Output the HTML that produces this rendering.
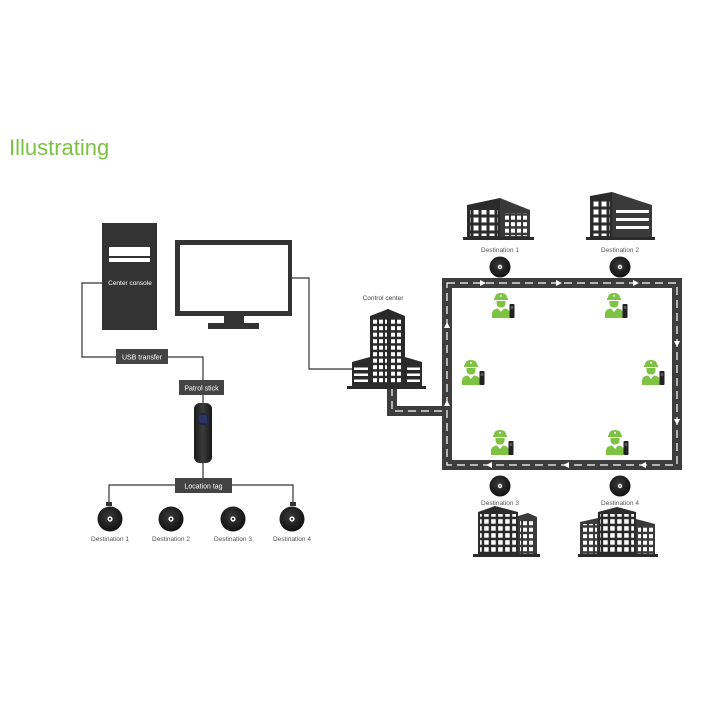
<!DOCTYPE html>
<html><head><meta charset="utf-8">
<style>html,body{margin:0;padding:0;background:#fff}svg{display:block}</style></head>
<body>
<svg width="701" height="701" viewBox="0 0 701 701" xmlns="http://www.w3.org/2000/svg" font-family="'Liberation Sans', sans-serif">
<defs>
<pattern id="wa" patternUnits="userSpaceOnUse" width="8" height="8"><rect x="1.5" y="1.5" width="5" height="5" fill="#fff"/></pattern>
<pattern id="wb" patternUnits="userSpaceOnUse" width="6" height="6.5"><rect x="1" y="1.2" width="4" height="4" fill="#fff"/></pattern>
<pattern id="wc" patternUnits="userSpaceOnUse" width="7" height="7"><rect x="1.2" y="1.2" width="4.5" height="4.5" fill="#fff"/></pattern>
<pattern id="st" patternUnits="userSpaceOnUse" width="6" height="6"><rect x="0" y="1.5" width="6" height="2.5" fill="#fff"/></pattern>
<radialGradient id="pk" cx="0.45" cy="0.4" r="0.6">
<stop offset="0" stop-color="#3a3a3a"/><stop offset="1" stop-color="#111"/></radialGradient>
<linearGradient id="sk" x1="0" x2="1"><stop offset="0" stop-color="#1a1a1a"/><stop offset="0.5" stop-color="#3c3c3c"/><stop offset="1" stop-color="#161616"/></linearGradient>
<g id="guard">
<path d="M3,5 Q3,0 9,0 Q15,0 15,5 Z" fill="#7dc242"/>
<rect x="2" y="5" width="14" height="2" fill="#7dc242"/>
<circle cx="9" cy="2.8" r="1" fill="#fff"/>
<path d="M4.5,8 L13.5,8 L13.5,10 Q13.5,14.5 9,14.5 Q4.5,14.5 4.5,10 Z" fill="#7dc242"/>
<path d="M0,25 L0,20 Q0.5,16 6,15.5 L9,19 L12,15.5 Q17.5,16 18,20 L18,25 Z" fill="#7dc242"/>
<rect x="17.5" y="11" width="5" height="14" rx="1" fill="#222"/>
<rect x="18.7" y="13" width="2.6" height="3" fill="#555"/>
</g>
</defs>

<!-- Title -->
<text x="9" y="155" font-size="22" fill="#7cc242">Illustrating</text>

<!-- Left diagram connectors -->
<g stroke="#333" stroke-width="1.2" fill="none">
<path d="M102,283 H82 V357 H116"/>
<path d="M168,357 H203 V380"/>
<path d="M203,395 V403"/>
<path d="M203,463 V478"/>
<path d="M175,485 H109 V503"/>
<path d="M232,485 H293 V503"/>
<path d="M292,278 H309 V369 H352"/>
</g>
<rect x="106" y="502" width="6" height="4" fill="#333"/>
<rect x="290" y="502" width="6" height="4" fill="#333"/>

<!-- Console -->
<rect x="102" y="223" width="55" height="107" fill="#333"/>
<rect x="109" y="247" width="41" height="9" fill="#fff"/>
<rect x="109" y="258" width="41" height="4" fill="#fff"/>
<text x="130" y="285" font-size="6.5" fill="#fff" text-anchor="middle">Center console</text>

<!-- Monitor -->
<rect x="175" y="240" width="117" height="76" fill="#333"/>
<rect x="180" y="245" width="108" height="66" fill="#fff"/>
<rect x="224" y="316" width="20" height="7" fill="#333"/>
<rect x="208" y="323" width="51" height="6" fill="#333"/>

<!-- Boxes -->
<rect x="116" y="349" width="52" height="15" fill="#444"/>
<text x="142" y="359.5" font-size="7" fill="#fff" text-anchor="middle">USB transfer</text>
<rect x="179" y="380" width="45" height="15" fill="#444"/>
<text x="201.5" y="390.5" font-size="7" fill="#fff" text-anchor="middle">Patrol stick</text>
<rect x="175" y="478" width="57" height="15" fill="#444"/>
<text x="203.5" y="488.5" font-size="7" fill="#fff" text-anchor="middle">Location tag</text>

<!-- Patrol stick -->
<rect x="194" y="403" width="18" height="60" rx="6" fill="url(#sk)"/>
<rect x="197" y="413" width="12" height="12" rx="2" fill="#232840"/>
<rect x="199" y="415" width="8" height="8" rx="1" fill="#2c3560"/>

<!-- Left pucks -->
<g>
<circle cx="110" cy="519" r="12.5" fill="url(#pk)"/><circle cx="110" cy="519" r="2.6" fill="#fff"/><circle cx="110" cy="519" r="1" fill="#111"/>
<circle cx="171" cy="519" r="12.5" fill="url(#pk)"/><circle cx="171" cy="519" r="2.6" fill="#fff"/><circle cx="171" cy="519" r="1" fill="#111"/>
<circle cx="233" cy="519" r="12.5" fill="url(#pk)"/><circle cx="233" cy="519" r="2.6" fill="#fff"/><circle cx="233" cy="519" r="1" fill="#111"/>
<circle cx="292" cy="519" r="12.5" fill="url(#pk)"/><circle cx="292" cy="519" r="2.6" fill="#fff"/><circle cx="292" cy="519" r="1" fill="#111"/>
</g>
<g font-size="6.5" fill="#555" text-anchor="middle">
<text x="110" y="541">Destination 1</text>
<text x="171" y="541">Destination 2</text>
<text x="233" y="541">Destination 3</text>
<text x="292" y="541">Destination 4</text>
</g>

<!-- Road -->
<g fill="none" stroke-linejoin="miter">
<path d="M447,283 H677 V465 H447 Z" stroke="#3d3d3d" stroke-width="10"/>
<path d="M392,386 V411 H447" stroke="#3d3d3d" stroke-width="10"/>
<path d="M447,283 H677 V465 H447 Z" stroke="#fff" stroke-width="1.2" stroke-dasharray="8 5"/>
<path d="M392,388 V411 H444" stroke="#fff" stroke-width="1.2" stroke-dasharray="8 5"/>
</g>
<g fill="#fff">
<polygon points="486,283 480,280 480,286"/>
<polygon points="562,283 556,280 556,286"/>
<polygon points="639,283 633,280 633,286"/>
<polygon points="677,347 674,341 680,341"/>
<polygon points="677,425 674,419 680,419"/>
<polygon points="486,465 492,462 492,468"/>
<polygon points="563,465 569,462 569,468"/>
<polygon points="640,465 646,462 646,468"/>
<polygon points="447,322 444,328 450,328"/>
<polygon points="447,400 444,406 450,406"/>
</g>

<!-- Control center -->
<text x="383" y="300" font-size="6.5" fill="#444" text-anchor="middle">Control center</text>
<polygon points="370,316 388,309 405,316 405,387 370,387" fill="#2a2a2a"/>
<rect x="372" y="318" width="31" height="66" fill="url(#wb)"/>
<line x1="388" y1="309" x2="388" y2="387" stroke="#2a2a2a" stroke-width="2"/>
<polygon points="352,362 370,357 370,387 352,387" fill="#2a2a2a"/>
<rect x="354" y="364" width="14" height="21" fill="url(#st)"/>
<polygon points="405,357 422,362 422,387 405,387" fill="#2a2a2a"/>
<rect x="407" y="364" width="13" height="21" fill="url(#st)"/>
<rect x="347" y="386" width="79" height="3" fill="#2a2a2a"/>

<!-- Dest 1 building -->
<polygon points="467,205 500,198 500,238 467,238" fill="#2b2b2b"/>
<polygon points="500,198 530,210 530,238 500,238" fill="#3a3a3a"/>
<rect x="470" y="210" width="28" height="26" fill="url(#wa)"/>
<rect x="503" y="213" width="25" height="23" fill="url(#wb)"/>
<rect x="463" y="237" width="71" height="3" fill="#2b2b2b"/>
<!-- Dest 2 building -->
<polygon points="590,196 612,192 612,238 590,238" fill="#2b2b2b"/>
<rect x="592" y="200" width="18" height="36" fill="url(#wa)"/>
<polygon points="612,192 652,205 652,238 612,238" fill="#3a3a3a"/>
<rect x="616" y="210" width="33" height="3" fill="#fff"/>
<rect x="616" y="218" width="33" height="3" fill="#fff"/>
<rect x="616" y="226" width="33" height="3" fill="#fff"/>
<rect x="586" y="237" width="69" height="3" fill="#2b2b2b"/>

<!-- Dest 3 building -->
<polygon points="478,512 495,506 518,512 518,555 478,555" fill="#2b2b2b"/>
<rect x="480" y="514" width="36" height="40" fill="url(#wc)"/>
<polygon points="518,516 528,513 537,517 537,555 518,555" fill="#3a3a3a"/>
<rect x="520" y="519" width="15" height="35" fill="url(#wb)"/>
<rect x="473" y="554" width="67" height="3" fill="#2b2b2b"/>
<!-- Dest 4 building -->
<polygon points="580,522 598,518 598,555 580,555" fill="#3a3a3a"/>
<rect x="582" y="524" width="15" height="30" fill="url(#wb)"/>
<polygon points="598,512 617,507 636,512 636,555 598,555" fill="#2b2b2b"/>
<rect x="600" y="514" width="34" height="40" fill="url(#wc)"/>
<polygon points="636,519 655,524 655,555 636,555" fill="#3a3a3a"/>
<rect x="638" y="526" width="15" height="28" fill="url(#wb)"/>
<rect x="578" y="554" width="80" height="3" fill="#2b2b2b"/>

<!-- Right pucks -->
<circle cx="500" cy="267" r="10.5" fill="url(#pk)"/><circle cx="500" cy="267" r="2.2" fill="#fff"/><circle cx="500" cy="267" r="0.8" fill="#111"/>
<circle cx="620" cy="267" r="10.5" fill="url(#pk)"/><circle cx="620" cy="267" r="2.2" fill="#fff"/><circle cx="620" cy="267" r="0.8" fill="#111"/>
<circle cx="500" cy="486" r="10.5" fill="url(#pk)"/><circle cx="500" cy="486" r="2.2" fill="#fff"/><circle cx="500" cy="486" r="0.8" fill="#111"/>
<circle cx="620" cy="486" r="10.5" fill="url(#pk)"/><circle cx="620" cy="486" r="2.2" fill="#fff"/><circle cx="620" cy="486" r="0.8" fill="#111"/>
<g font-size="6.5" fill="#555" text-anchor="middle">
<text x="500" y="252">Destination 1</text>
<text x="620" y="252">Destination 2</text>
<text x="500" y="505">Destination 3</text>
<text x="620" y="505">Destination 4</text>
</g>

<!-- Guards -->
<use href="#guard" x="492" y="293"/>
<use href="#guard" x="605" y="293"/>
<use href="#guard" x="462" y="360"/>
<use href="#guard" x="642" y="360"/>
<use href="#guard" x="491" y="430"/>
<use href="#guard" x="606" y="430"/>
</svg>
</body></html>
